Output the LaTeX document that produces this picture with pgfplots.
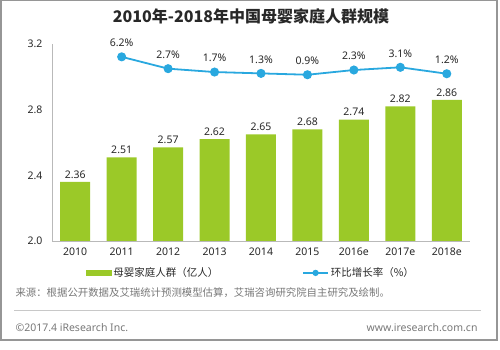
\documentclass[border=0pt]{standalone}
\usepackage{fontspec}
\setmainfont{Noto Sans}
\newfontfamily\cjk{Noto Sans CJK SC}
\usepackage{pgfplots}
\pgfplotsset{compat=1.18}
\definecolor{barg}{RGB}{155,201,40}
\definecolor{lineb}{RGB}{41,168,223}
\definecolor{axg}{RGB}{185,185,185}
\definecolor{txt}{RGB}{40,40,40}
\definecolor{srcg}{RGB}{120,120,120}
\begin{document}
\begin{tikzpicture}
\path[use as bounding box] (0bp,0bp) rectangle (500bp,350bp);
\draw[color={rgb,255:red,150;green,150;blue,150}, line width=1.2bp] (1bp,10bp) rectangle (497bp,349.5bp);
\node[font=\cjk\bfseries\fontsize{16bp}{18bp}\selectfont, text=txt] at (251bp,334bp) {2010年-2018年中国母婴家庭人群规模};
\begin{axis}[
  at={(52bp,109bp)}, anchor=south west,
  scale only axis, width=418bp, height=197bp,
  xmin=-0.5, xmax=8.5, ymin=2.0, ymax=3.2,
  axis lines*=left,
  axis line style={draw=axg, line width=0.8bp},
  xtick=data,
  xticklabels={2010,2011,2012,2013,2014,2015,2016e,2017e,2018e},
  ytick={2.0,2.4,2.8,3.2},
  yticklabel style={xshift=-6bp, /pgf/number format/.cd, fixed, fixed zerofill, precision=1},
  /pgf/number format/assume math mode=true,
  tick style={draw=none},
  ticklabel style={font=\fontsize{10.5bp}{12bp}\selectfont, text=txt},
  xticklabel style={yshift=-3bp},
  clip=false,
]
\addplot[ybar, bar width=30bp, fill=barg, draw=none,
  nodes near coords,
  point meta=y,
  every node near coord/.append style={font=\fontsize{10.5bp}{12bp}\selectfont, text=txt, /pgf/number format/.cd, fixed, fixed zerofill, precision=2, assume math mode=true},
] coordinates {(0,2.36) (1,2.51) (2,2.57) (3,2.62) (4,2.65) (5,2.68) (6,2.74) (7,2.82) (8,2.86)};
\end{axis}
\begin{axis}[
  at={(52bp,109bp)}, anchor=south west,
  scale only axis, width=418bp, height=197bp,
  xmin=-0.5, xmax=8.5, ymin=-48.3, ymax=10,
  hide axis, clip=false,
  legend style={draw=none, fill=none, at={(0.476,-0.162)}, anchor=center,
    font=\cjk\fontsize{10.5bp}{12bp}\selectfont, text=txt,
    legend columns=2, /tikz/every even column/.append style={column sep=82bp},
    legend cell align=left, inner sep=0pt},
]
\addlegendimage{legend image code/.code={\fill[barg] (0bp,-2.5bp) rectangle (25bp,2.5bp);}}
\addlegendentry{母婴家庭人群（亿人）}
\addplot[color=lineb, line width=1.8bp, mark=*, mark size=3.6bp, mark options={fill=lineb, draw=lineb},
  nodes near coords={\pgfmathprintnumber[fixed,fixed zerofill,precision=1,assume math mode=true]{\pgfplotspointmeta}\%},
  point meta=y,
  every node near coord/.append style={font=\fontsize{10.5bp}{12bp}\selectfont, text=txt, anchor=center, yshift=14bp},
  legend image code/.code={\draw[lineb, line width=1.5bp] (0bp,0bp) -- (25bp,0bp); \fill[lineb] (12.5bp,0bp) circle (2.2bp);},
] coordinates {(1,6.2) (2,2.7) (3,1.7) (4,1.3) (5,0.9) (6,2.3) (7,3.1) (8,1.2)};
\addlegendentry{环比增长率（\%）}
\end{axis}
\node[anchor=west, font=\cjk\fontsize{10.4bp}{12bp}\selectfont, text=srcg] at (12bp,57bp) {来源：根据公开数据及艾瑞统计预测模型估算，艾瑞咨询研究院自主研究及绘制。};
\draw[color={rgb,255:red,200;green,200;blue,200}, line width=0.8bp] (14bp,40bp) -- (481bp,40bp);
\node[anchor=west, font=\fontsize{10.5bp}{12bp}\selectfont, text=srcg] at (12bp,22bp) {©2017.4 iResearch Inc.};
\node[anchor=east, font=\fontsize{10.5bp}{12bp}\selectfont, text=srcg] at (481bp,22bp) {www.iresearch.com.cn};
\end{tikzpicture}
\end{document}
